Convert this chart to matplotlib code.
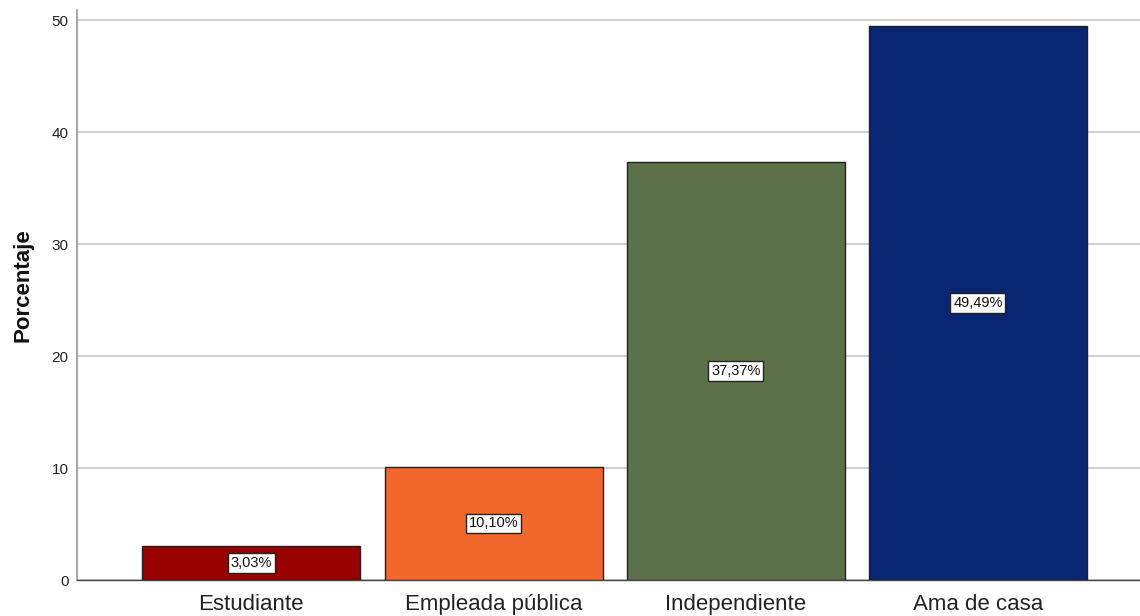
import matplotlib
matplotlib.use("Agg")
import matplotlib.pyplot as plt

categories = ["Estudiante", "Empleada pública", "Independiente", "Ama de casa"]
values = [3.03, 10.10, 37.37, 49.49]
labels = ["3,03%", "10,10%", "37,37%", "49,49%"]
colors = ["#990000", "#F2672B", "#5C714A", "#0A2672"]
yticks = [0, 10, 20, 30, 40, 50]

plt.rcParams['font.family'] = ['Liberation Sans', 'DejaVu Sans']

fig = plt.figure(figsize=(11.4, 6.16), dpi=100)
ax = fig.add_axes([77/1140, 1-580/616, 1-77/1140, 570/616])

x = list(range(len(categories)))
ax.bar(x, values, width=0.9, color=colors, edgecolor="#222222", linewidth=1.0, zorder=3)
for xi, v, lab in zip(x, values, labels):
    ax.text(xi, v/2, lab, ha="center", va="center", fontsize=10.5, color="#111111", zorder=4,
            bbox=dict(boxstyle="square,pad=0.2", facecolor="white", edgecolor="#222222", linewidth=1.0))

ax.set_xlim(-0.72, 3 + (1140-978)/242)
ax.set_ylim(0, 50.9)
ax.set_yticks(yticks)
ax.set_xticks(x)
ax.set_xticklabels(categories, fontsize=16, color="#222222")
ax.tick_params(axis="y", labelsize=11, colors="#222222", length=0, pad=6)
ax.tick_params(axis="x", length=0, pad=10)
ax.yaxis.grid(True, color="#C8C8C8", linewidth=1.2, zorder=0)
ax.set_axisbelow(True)
for s in ["top", "right"]:
    ax.spines[s].set_visible(False)
ax.spines["left"].set_color("#999999")
ax.spines["left"].set_linewidth(1.2)
ax.spines["bottom"].set_color("#444444")
ax.spines["bottom"].set_linewidth(1.0)
ax.set_ylabel("Porcentaje", fontsize=16, fontweight="bold", color="#111111", va="center")
ax.yaxis.set_label_coords(-(77-23)/1063, (580-285)/570)

fig.savefig("out.png", dpi=100)
